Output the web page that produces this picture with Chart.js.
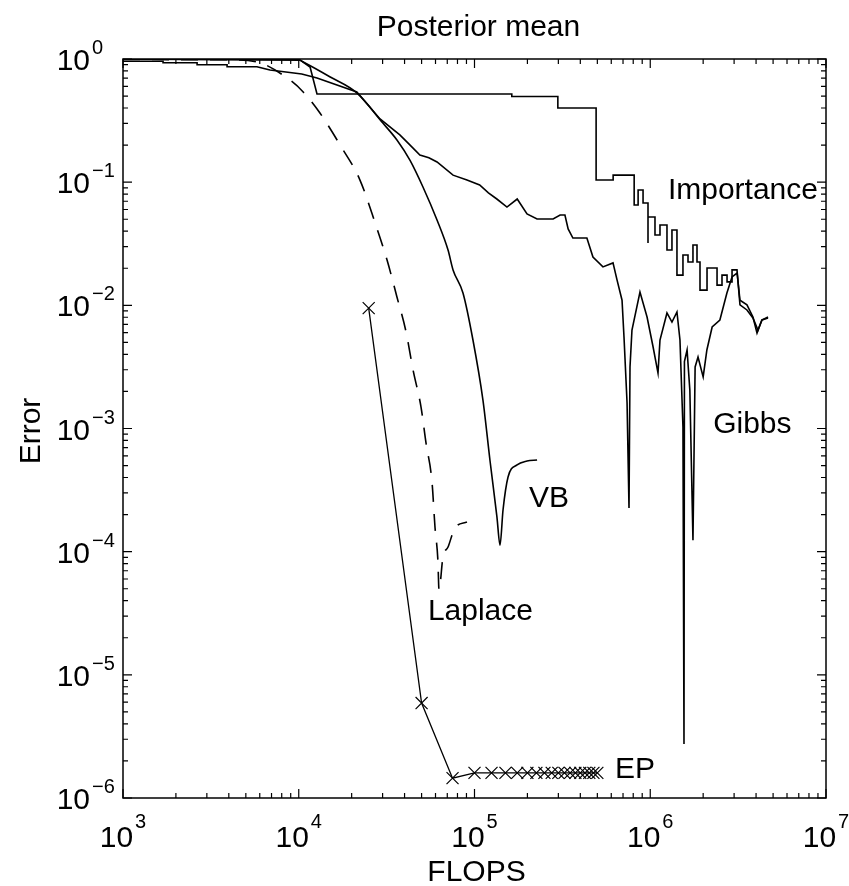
<!DOCTYPE html>
<html lang="en">
<head>
<meta charset="utf-8">
<script src="https://cdn.jsdelivr.net/npm/chart.js@4.4.0/dist/chart.umd.min.js"></script>
<style>
  body { margin: 0; background: #fff; }
  #wrap { width: 849px; height: 886px; }
</style>
</head>
<body>
<div id="wrap"><canvas id="myChart"></canvas></div>
<script>
// error of posterior mean vs FLOPS
const impX = [1000, 10200, 11600, 12700, 163000, 163000, 298000, 298000, 492000, 492000, 615000, 615000,
  810000, 810000, 853000, 853000, 910000, 910000, 971000, 971000, 971000, 1064000, 1064000, 1136000, 1136000,
  1245000, 1245000, 1329000, 1329000, 1419000, 1419000, 1535000, 1535000, 1640000, 1640000, 1750000, 1750000,
  1845000, 1845000, 1919000, 1919000, 2104000, 2104000, 2399000, 2399000, 2560000, 2560000, 2735000, 2735000,
  2920000, 2920000, 3116000, 3240000, 3550000, 3840000, 4100000, 4320000, 4680000];
const impY = [1.0, 0.98, 0.861, 0.52, 0.52, 0.496, 0.496, 0.40, 0.40, 0.104, 0.104, 0.114,
  0.114, 0.0653, 0.0653, 0.0863, 0.0863, 0.0677, 0.0677, 0.0321, 0.0521, 0.0521, 0.0372, 0.0372, 0.0449,
  0.0449, 0.0281, 0.0281, 0.0409, 0.0409, 0.0176, 0.0176, 0.0256, 0.0256, 0.0225, 0.0225, 0.0309,
  0.0309, 0.0225, 0.0225, 0.0133, 0.0133, 0.0201, 0.0201, 0.0146, 0.0146, 0.0176, 0.0176, 0.0155,
  0.0155, 0.0194, 0.0194, 0.0101, 0.00917, 0.00789, 0.0063, 0.0076, 0.0079];

const gibbsX = [1000, 1690, 1690, 2640, 2640, 3910, 3910, 5780, 6860, 10400, 12700, 21400, 29000, 37600,
  43000, 48900, 55000, 61200, 75500, 90600, 107000, 120000, 134000, 153000, 175000, 199000, 227000, 280000,
  307000, 327000, 341000, 363000, 436000, 472000, 538000, 614000, 647000, 691000, 709000, 738000, 757000,
  767000, 787000, 874000, 959000, 1038000, 1107000, 1136000, 1245000, 1329000, 1419000, 1476000, 1535000,
  1556000, 1565000, 1620000, 1680000, 1750000, 1800000, 1870000, 2000000, 2100000, 2250000, 2490000,
  2730000, 2920000, 3120000, 3240000, 3550000, 3840000, 4050000, 4320000, 4680000];
const gibbsY = [0.96, 0.96, 0.933, 0.933, 0.899, 0.899, 0.866, 0.866, 0.814, 0.755, 0.701, 0.54, 0.326, 0.242,
  0.2, 0.166, 0.158, 0.146, 0.114, 0.104, 0.0948, 0.082, 0.073, 0.0628, 0.073, 0.0552, 0.0502, 0.0502,
  0.0541, 0.0541, 0.0417, 0.0352, 0.0352, 0.0247, 0.0205, 0.0221, 0.0161, 0.011, 0.00553, 0.00161, 0.000226,
  0.00316, 0.0063, 0.0128, 0.00804, 0.00459, 0.00282, 0.00523, 0.00867, 0.00732, 0.00883, 0.00523, 0.00103,
  0.00000275, 0.0035, 0.00434, 0.00205, 0.000124, 0.00316, 0.00381, 0.00262, 0.00434, 0.00667, 0.0076,
  0.0126, 0.017, 0.0183, 0.011, 0.0101, 0.00804, 0.00596, 0.0076, 0.00804];

const vbX = [1000, 9900, 10600, 15100, 21400, 30100, 36200, 42900, 50900, 61200, 70700, 75500, 86000,
  98000, 111700, 122400, 134200, 139700, 145300, 155200, 174700, 199000, 227000];
const vbY = [0.995, 0.99, 0.945, 0.714, 0.53, 0.302, 0.22, 0.151, 0.0914, 0.0493, 0.0281, 0.0194, 0.0126,
  0.00523, 0.0017, 0.000555, 0.000191, 0.000113, 0.000218, 0.000404, 0.000506, 0.000544, 0.000555];

const lapX = [1000, 4000, 5780, 8910, 10600, 13200, 17200, 22300, 27200, 31800, 36200, 40800, 44700,
  49600, 53000, 57300, 59600, 61900, 62800, 66200, 70700, 77400, 90600];
const lapY = [0.99, 0.985, 0.946, 0.675, 0.54, 0.364, 0.2, 0.104, 0.0466, 0.0233, 0.0117, 0.00608, 0.00299,
  0.0015, 0.00076, 0.000368, 0.000158, 0.000085, 0.000049, 0.000091, 0.000109, 0.000156, 0.000174];

const epX = [25000, 50000, 75000, 100000, 125000, 150000, 175000, 200000, 225000, 250000,
  275000, 300000, 325000, 350000, 375000, 400000, 425000, 450000, 475000, 500000];
const epY = [0.0095, 0.0000059, 0.00000145, 0.0000016, 0.0000016, 0.0000016, 0.0000016, 0.0000016, 0.0000016, 0.0000016,
  0.0000016, 0.0000016, 0.0000016, 0.0000016, 0.0000016, 0.0000016, 0.0000016, 0.0000016, 0.0000016, 0.0000016];

// curve names and where their text sits (left edge, baseline)
const curveNames = ['Importance', 'Gibbs', 'VB', 'Laplace', 'EP'];
const nameX = [1260000, 2280000, 204000, 54300, 630000];
const nameY = [0.073, 0.00092, 0.000231, 0.0000279, 0.00000145];

const xTickExp = [3, 4, 5, 6, 7];
const yTickExp = [0, -1, -2, -3, -4, -5, -6];

const FAMILY = '"Liberation Sans", Arial, Helvetica, sans-serif';

function pts(xs, ys) {
  return xs.map((x, i) => ({ x: x, y: ys[i] }));
}
function expText(e) {
  return e < 0 ? '\u2212' + (-e) : String(e);
}

const matlabAxes = {
  id: 'matlabAxes',
  afterDatasetsDraw(chart) {
    const ctx = chart.ctx;
    const a = chart.chartArea;
    const xs = chart.scales.x, ys = chart.scales.y;
    ctx.save();
    ctx.strokeStyle = '#000';
    ctx.fillStyle = '#000';
    ctx.lineWidth = 1.5;
    ctx.strokeRect(a.left, a.top, a.right - a.left, a.bottom - a.top);

    // inward ticks, all four sides
    ctx.lineWidth = 1.2;
    ctx.beginPath();
    for (let e = xTickExp[0]; e <= xTickExp[xTickExp.length - 1]; e++) {
      for (let m = 1; m <= 9; m++) {
        const v = m * Math.pow(10, e);
        if (v > xs.max * 1.0001) break;
        const px = xs.getPixelForValue(v);
        const len = m === 1 ? 9 : 5;
        ctx.moveTo(px, a.bottom); ctx.lineTo(px, a.bottom - len);
        ctx.moveTo(px, a.top); ctx.lineTo(px, a.top + len);
      }
    }
    for (let e = yTickExp[yTickExp.length - 1]; e <= yTickExp[0]; e++) {
      for (let m = 1; m <= 9; m++) {
        const v = m * Math.pow(10, e);
        if (v > ys.max * 1.0001) break;
        const py = ys.getPixelForValue(v);
        const len = m === 1 ? 9 : 5;
        ctx.moveTo(a.left, py); ctx.lineTo(a.left + len, py);
        ctx.moveTo(a.right, py); ctx.lineTo(a.right - len, py);
      }
    }
    ctx.stroke();

    // tick labels 10^n
    ctx.textAlign = 'left';
    ctx.textBaseline = 'alphabetic';
    xTickExp.forEach(e => {
      const px = xs.getPixelForValue(Math.pow(10, e));
      const es = expText(e);
      ctx.font = '30px ' + FAMILY;
      const w1 = ctx.measureText('10').width;
      ctx.font = '20px ' + FAMILY;
      const w2 = ctx.measureText(es).width;
      const x0 = px - (w1 + 2 + w2) / 2;
      ctx.font = '30px ' + FAMILY;
      ctx.fillText('10', x0, a.bottom + 49);
      ctx.font = '20px ' + FAMILY;
      ctx.fillText(es, x0 + w1 + 2, a.bottom + 30);
    });
    yTickExp.forEach(e => {
      const py = ys.getPixelForValue(Math.pow(10, e));
      ctx.font = '30px ' + FAMILY;
      ctx.textAlign = 'right';
      ctx.fillText('10', a.left - 33, py + 11);
      ctx.font = '20px ' + FAMILY;
      ctx.textAlign = 'left';
      ctx.fillText(expText(e), a.left - 31, py - 5);
    });

    // curve names
    ctx.font = '30px ' + FAMILY;
    ctx.textAlign = 'left';
    curveNames.forEach((n, i) => {
      ctx.fillText(n, xs.getPixelForValue(nameX[i]), ys.getPixelForValue(nameY[i]));
    });

    // title and axis titles
    ctx.textAlign = 'center';
    ctx.fillText('Posterior mean', (a.left + a.right) / 2 + 4, 36);
    ctx.fillText('FLOPS', (a.left + a.right) / 2 + 2, 881);
    ctx.translate(40, 431);
    ctx.rotate(-Math.PI / 2);
    ctx.fillText('Error', 0, 0);
    ctx.restore();
  }
};

const line = { borderColor: '#000', borderWidth: 1.6, pointRadius: 0, tension: 0, fill: false };
const smooth = Object.assign({}, line, { cubicInterpolationMode: 'monotone' });

new Chart(document.getElementById('myChart'), {
  type: 'line',
  data: {
    datasets: [
      Object.assign({ label: 'Importance', data: pts(impX, impY) }, line),
      Object.assign({ label: 'Gibbs', data: pts(gibbsX, gibbsY) }, line),
      Object.assign({ label: 'VB', data: pts(vbX, vbY) }, smooth),
      Object.assign({ label: 'Laplace', data: pts(lapX, lapY), borderDash: [17, 12] }, smooth),
      Object.assign({ label: 'EP', data: pts(epX, epY) }, line, {
        borderWidth: 1.3, pointRadius: 8.5, pointStyle: 'crossRot',
        pointBorderColor: '#000', pointBorderWidth: 1.2, pointBackgroundColor: '#000'
      })
    ]
  },
  options: {
    responsive: true,
    maintainAspectRatio: false,
    animation: false,
    layout: { padding: { left: 123, right: 23, top: 59, bottom: 88 } },
    plugins: { legend: { display: false }, tooltip: { enabled: false } },
    scales: {
      x: { type: 'logarithmic', min: 1000, max: 10000000, display: false },
      y: { type: 'logarithmic', min: 0.000001, max: 1, display: false }
    }
  },
  plugins: [matlabAxes]
});
</script>
</body>
</html>
